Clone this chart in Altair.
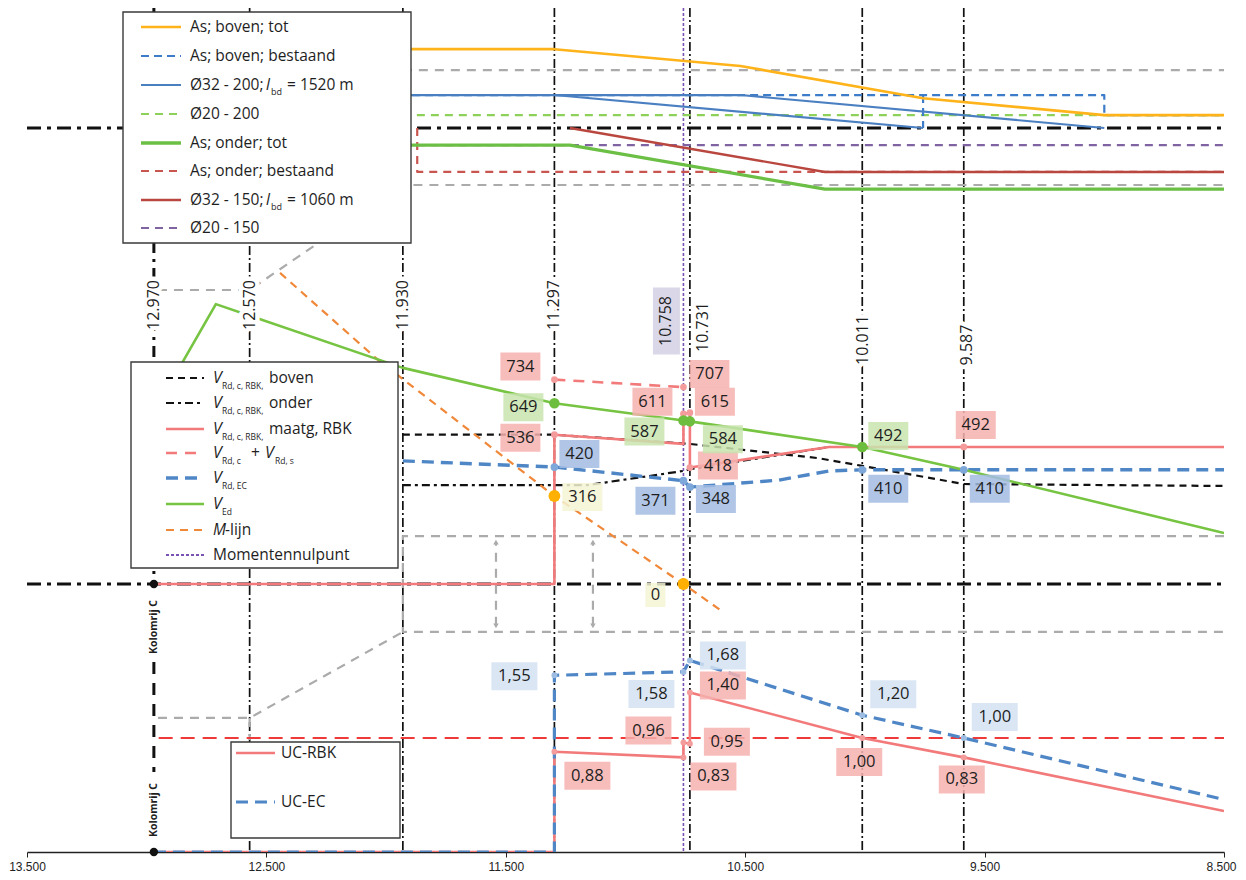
import altair as alt
import pandas as pd

# ------------------------------------------------------------------
# DATA
# ------------------------------------------------------------------
axis_ticks = [13.5, 12.5, 11.5, 10.5, 9.5, 8.5]

# section lines (m) and their labels
sec_x = [12.970, 12.570, 11.930, 11.297, 10.758, 10.731, 10.011, 9.587]
sec_txt = ["12.970", "12.570", "11.930", "11.297", "10.758", "10.731", "10.011", "9.587"]

# --- reinforcement panel, As in mm2/m (boven > 0, onder < 0)
as_zero_x, as_zero = [13.5, 8.5], [0, 0]
as_boven_tot_x = [12.0, 11.297, 10.52, 9.757, 9.0, 8.5]
as_boven_tot = [9613, 9613, 7558, 3626, 1571, 1571]
as_boven_best_x = [12.0, 9.0, 9.0, 8.5]
as_boven_best = [4021, 4021, 1571, 1571]
as_boven_best2_x = [9.757, 9.757]
as_boven_best2 = [4021, 0]
as_d32_200a_x = [12.0, 10.52, 9.0]
as_d32_200a = [4021, 4021, 0]
as_d32_200b_x = [11.297, 9.757]
as_d32_200b = [4021, 0]
as_d20_200_x = [11.93, 8.5]
as_d20_200 = [1571, 1571]
as_onder_tot_x = [12.0, 11.232, 10.167, 8.5]
as_onder_tot = [-2094, -2094, -7456, -7456]
as_onder_best_x = [11.87, 11.87, 8.5]
as_onder_best = [0, -5362, -5362]
as_d32_150_x = [11.232, 10.167, 8.5]
as_d32_150 = [0, -5362, -5362]
as_d20_150_x = [11.93, 8.5]
as_d20_150 = [-2094, -2094]
as_grey_top_x = [11.93, 8.5]
as_grey_top = [7070, 7070]
as_grey_bot_x = [12.953, 12.57, 11.93, 8.5]
as_grey_bot = [-19756, -19756, -6951, -6951]

# --- shear panel, V in kN
v_zero_x, v_zero = [13.5, 8.5], [0, 0]
ved_x = [12.87, 12.711, 11.93, 11.297, 10.758, 10.731, 10.011, 9.587, 8.5]
ved = [767, 1005, 776, 649, 587, 584, 492, 410, 183]
vrbk_x = [12.97, 11.297, 11.297, 10.758, 10.758, 10.731, 10.731, 10.15, 8.5]
vrbk = [0, 0, 536, 503, 611, 615, 418, 492, 492]
vrds_x = [11.297, 10.758]
vrds = [734, 707]
vboven_x = [11.93, 11.297, 10.731, 10.196, 10.011, 9.587, 8.5]
vboven = [536, 536, 503, 452, 424, 359, 352]
vonder_x = [11.93, 11.16, 10.758, 10.731, 10.15, 8.5]
vonder = [355, 355, 406, 412, 492, 492]
vrdec_x = [11.93, 11.297, 10.758, 10.731, 10.36, 10.15, 10.011, 8.5]
vrdec = [442, 420, 371, 348, 373, 406, 410, 410]
mlijn_x = [12.443, 12.033, 11.297, 10.758, 10.593]
mlijn = [1117, 804, 316, 0, -100]
v_grey_x = [8.5, 11.93, 11.93, 8.5]
v_grey = [172, 172, -172, -172]
v_grey_diag_x = [12.953, 12.57, 11.93]
v_grey_diag = [-481, -481, -172]
v_grey_tick_x = [12.57, 12.57]
v_grey_tick = [-481, -560]
v_arrow_x = [11.541, 11.136]
v_arrow_lo, v_arrow_hi = -150, 150

# --- unity checks
ucr_x = [12.97, 11.297, 11.297, 10.758, 10.758, 10.731, 10.731, 10.011, 9.587, 8.5]
ucr = [0, 0, 0.88, 0.83, 0.96, 0.95, 1.40, 1.00, 0.83, 0.36]
uce_x = [12.97, 11.297, 11.297, 10.758, 10.731, 10.011, 9.587, 8.5]
uce = [0, 0, 1.55, 1.58, 1.68, 1.20, 1.00, 0.46]
uc1_x, uc1 = [12.95, 8.5], [1.0, 1.0]

# --- labelled values
sh_lbl_x = [11.297, 11.297, 11.297, 11.297, 11.297, 10.758, 10.758, 10.731, 10.758,
            10.731, 10.731, 10.758, 10.731, 10.758, 10.011, 9.587, 10.011, 9.587]
sh_lbl_v = [734, 649, 536, 420, 316, 707, 611, 615, 587, 584, 418, 371, 348, 0, 492, 492, 410, 410]
sh_lbl_kind = ["rbk", "ed", "rbk", "ec", "m", "rbk", "rbk", "rbk", "ed", "ed", "rbk", "ec",
               "ec", "m", "ed", "rbk", "ec", "ec"]
uc_lbl_x = [11.297, 10.758, 10.731, 10.731, 10.758, 10.731, 11.297, 10.758, 10.011, 9.587, 10.011, 9.587]
uc_lbl_v = [1.55, 1.58, 1.68, 1.40, 0.96, 0.95, 0.88, 0.83, 1.20, 1.00, 1.00, 0.83]
uc_lbl_kind = ["ec", "ec", "ec", "rbk", "rbk", "rbk", "rbk", "rbk", "ec", "ec", "rbk", "rbk"]

# dots
dot_ed_x, dot_ed = [11.297, 10.758, 10.731, 10.011], [649, 587, 584, 492]
dot_ec_x, dot_ec = [11.297, 10.758, 10.731, 10.011, 9.587], [420, 371, 348, 410, 410]
dot_rbk_x = [11.297, 11.297, 10.758, 10.758, 10.731, 10.731, 9.587]
dot_rbk = [734, 536, 707, 611, 615, 418, 492]
dot_m_x, dot_m = [11.297, 10.758], [316, 0]
dot_ucr_x = [11.297, 10.758, 10.758, 10.731, 10.731, 10.011, 9.587]
dot_ucr = [0.88, 0.83, 0.96, 0.95, 1.40, 1.00, 0.83]
dot_uce_x = [11.297, 10.758, 10.731, 10.011, 9.587]
dot_uce = [1.55, 1.58, 1.68, 1.20, 1.00]

# ------------------------------------------------------------------
# LAYOUT (pixels / styles)
# ------------------------------------------------------------------
W, H = 1197, 844
PXM = W / 5.0
FONT = "Open Sans"
LEFT = 27  # page x of the 13.500 tick


def px2x(px):
    return 13.5 - (px - 29) / PXM


def px2Y(py):
    return 852 - py


def Yas(v):
    return 724 + 0.0082 * v


def Yv(v):
    return 268 + 0.2785 * v


def Yuc(v):
    return 114 * v


sh_lbl_off = [(-34, -13), (-31, 4), (-34, 3), (25, -13), (28, 1), (26, -13), (-31, -12), (25, -11),
              (-39, 11), (33, 18), (28, -2), (-28, 20), (26, 12), (-28, 11), (26, -11), (12, -22),
              (26, 19), (26, 19)]
uc_lbl_off = [(-40, 1), (-32, 22), (33, -5), (33, -7), (-35, -12), (37, -2), (33, 24), (30, 19),
              (31, -21), (31, -21), (-3, 24), (-2, 22)]
sec_lbl_py = [305, 305, 305, 305, 321, 327, 340, 345]
sec_lbl_dx = [0, 0, 0, 0, -17, 13, 1, 3]

C_OR = "#FFB31A"
C_BLUE_T = "#3D7CC9"
C_BLUE_S = "#4A7FC1"
C_GREEN_D = "#8ED15A"
C_GREEN_T = "#6CBF45"
C_RED_D = "#C9554F"
C_RED_T = "#B9473F"
C_PURP = "#8064A2"
C_GREY = "#ABABAB"
C_PINK = "#F27A7A"
C_EC = "#4F86C6"
C_VED = "#76C442"
C_M = "#F0883A"
C_MNP = "#7A52B3"
C_UC1 = "#F03A3A"

BOX_FILL = {"rbk": "#F6B1AF", "ed": "#C8E4AE", "ec": "#A3BCE3", "m": "#F5F5D5", "ucec": "#D3E2F2"}

x_scale = alt.Scale(domain=[8.5, 13.5], reverse=True, nice=False, zero=False)
y_scale = alt.Scale(domain=[0, H], nice=False, zero=False)
x_axis = alt.Axis(values=axis_ticks, format=".3f", title=None, grid=False, domainColor="#222",
                  domainWidth=1.5, tickColor="#222", tickSize=5, labelFontSize=12,
                  labelFont="Liberation Sans Narrow, Liberation Sans, sans-serif",
                  labelColor="#222", labelPadding=4, labelFlush=False,
                  labelAlign=alt.condition("datum.value < 8.6", alt.value("right"), alt.value("center")),
                  labelOffset=alt.condition("datum.value < 8.6", alt.value(12), alt.value(0)))


def X():
    return alt.X("x:Q", scale=x_scale, axis=x_axis)


def Yenc():
    return alt.Y("Y:Q", scale=y_scale, axis=None)


layers = []


def path(xs, ys, color, width, dash=None, cap="butt", opacity=1.0):
    df = pd.DataFrame({"x": xs, "Y": ys, "i": list(range(len(xs)))})
    kw = dict(color=color, strokeWidth=width, strokeCap=cap, strokeJoin="round", clip=True,
              opacity=opacity)
    if dash is not None:
        kw["strokeDash"] = dash
    layers.append(alt.Chart(df).mark_line(**kw).encode(x=X(), y=Yenc(), order="i:Q"))


def pts(xs, ys, color, size, shape="circle", opacity=1.0):
    df = pd.DataFrame({"x": xs, "Y": ys})
    layers.append(alt.Chart(df).mark_point(shape=shape, filled=True, color=color, size=size,
                                           opacity=opacity, strokeWidth=0)
                  .encode(x=X(), y=Yenc()))


def texts(xs, ys, labels, size, color="#1e1e1e", style="normal", weight="normal",
          align="center", angle=0, halo=False, font=FONT):
    df = pd.DataFrame({"x": xs, "Y": ys, "t": labels})
    kw = dict(fontSize=size, font=font, fontStyle=style, fontWeight=weight, align=align,
              baseline="middle", color=color, angle=angle)
    if halo:
        kw.update(stroke="white", strokeWidth=9, strokeJoin="round", color="white")
    layers.append(alt.Chart(df).mark_text(**kw).encode(x=X(), y=Yenc(), text="t:N"))


DASHDOT = [9, 3, 2, 3]

# ---------------- section lines ----------------
for sx in sec_x:
    if abs(sx - 12.970) < 1e-6:
        path([sx, sx], [H, Yv(0)], "#111", 3, [11, 6, 3, 6])
    elif abs(sx - 10.758) < 1e-6:
        path([sx, sx], [H, 0], C_MNP, 1.6, [3, 2])
    else:
        path([sx, sx], [H, 0], "#111", 1.7, DASHDOT)

# Kolomrij C marker below column line
path([12.97, 12.97], [px2Y(662), px2Y(772)], "#111", 3, [12, 9])

# ---------------- reinforcement panel ----------------
path(as_zero_x, [Yas(v) for v in as_zero], "#111", 3, [14, 6, 4, 6])
path(as_grey_top_x, [Yas(v) for v in as_grey_top], C_GREY, 2.2, [9, 7])
path(as_grey_bot_x, [Yas(v) for v in as_grey_bot], C_GREY, 2.2, [9, 7])
path(as_d20_200_x, [Yas(v) for v in as_d20_200], C_GREEN_D, 2.2, [8, 6])
path(as_d20_150_x, [Yas(v) for v in as_d20_150], C_PURP, 2.2, [8, 6])
path(as_onder_best_x, [Yas(v) for v in as_onder_best], C_RED_D, 2.2, [8, 6])
path(as_boven_best_x, [Yas(v) for v in as_boven_best], C_BLUE_T, 2.2, [8, 5])
path(as_boven_best2_x, [Yas(v) for v in as_boven_best2], C_BLUE_T, 2.2, [8, 5])
path(as_d32_200a_x, [Yas(v) for v in as_d32_200a], C_BLUE_S, 2.2)
path(as_d32_200b_x, [Yas(v) for v in as_d32_200b], C_BLUE_S, 2.2)
path(as_d32_150_x, [Yas(v) for v in as_d32_150], C_RED_T, 2.4)
path(as_onder_tot_x, [Yas(v) for v in as_onder_tot], C_GREEN_T, 3.2)
path(as_boven_tot_x, [Yas(v) for v in as_boven_tot], C_OR, 2.6)

# ---------------- shear panel ----------------
path(v_grey_x, [Yv(v) for v in v_grey], C_GREY, 2.2, [9, 7])
path(v_grey_diag_x, [Yv(v) for v in v_grey_diag], C_GREY, 2.2, [9, 7])
path(v_grey_tick_x, [Yv(v) for v in v_grey_tick], C_GREY, 2.2, [9, 7])
for ax in v_arrow_x:
    path([ax, ax], [Yv(v_arrow_lo), Yv(v_arrow_hi)], C_GREY, 2.2, [9, 7])
pts(v_arrow_x, [Yv(v_arrow_hi)] * len(v_arrow_x), C_GREY, 30, "triangle-up")
pts(v_arrow_x, [Yv(v_arrow_lo)] * len(v_arrow_x), C_GREY, 30, "triangle-down")

path(v_zero_x, [Yv(v) for v in v_zero], "#111", 3, [14, 6, 4, 6])
path(vonder_x, [Yv(v) for v in vonder], "#111", 2.2, [8, 4, 3, 4])
path(vboven_x, [Yv(v) for v in vboven], "#111", 2.2, [7, 5])
path(mlijn_x, [Yv(v) for v in mlijn], C_M, 2.2, [8, 6])
path(vrdec_x, [Yv(v) for v in vrdec], C_EC, 3.4, [12, 7])
path(vrds_x, [Yv(v) for v in vrds], C_PINK, 2.6, [11, 8])
path(vrbk_x, [Yv(v) for v in vrbk], C_PINK, 2.6)
path(ved_x, [Yv(v) for v in ved], C_VED, 2.6)

# ---------------- unity checks ----------------
path(uc1_x, [Yuc(v) for v in uc1], C_UC1, 2.2, [14, 8])
path(ucr_x, [Yuc(v) for v in ucr], C_PINK, 2.6)
path(uce_x, [Yuc(v) for v in uce], C_EC, 3.2, [12, 7])

# ---------------- dots ----------------
pts(dot_rbk_x, [Yv(v) for v in dot_rbk], "#F49C9C", 45)
pts(dot_ec_x, [Yv(v) for v in dot_ec], "#7FA8DA", 60)
pts(dot_ed_x, [Yv(v) for v in dot_ed], "#6DBE3E", 110)
pts(dot_m_x, [Yv(v) for v in dot_m], "#FFB000", 140)
pts(dot_ucr_x, [Yuc(v) for v in dot_ucr], "#F49C9C", 35)
pts(dot_uce_x, [Yuc(v) for v in dot_uce], "#9DBDE3", 35)
pts([12.97, 12.97], [Yv(0), Yuc(0)], "#111", 70)

# ---------------- value labels ----------------
SHAPES = {3: "M-2,-1.4H2V1.4H-2Z", 1: "M-1,-1.2H1V1.2H-1Z", 4: "M-2.3,-1.4H2.3V1.4H-2.3Z"}


def label_set(xs, Ys, txts, kinds, offs, font_size=16.5):
    rows = []
    for x, Y, t, k, (dx, dy) in zip(xs, Ys, txts, kinds, offs):
        rows.append({"x": x - dx / PXM, "Y": Y - dy, "t": t, "k": k})
    df = pd.DataFrame(rows)
    for k in df["k"].unique():
        for n in df["t"].str.len().unique():
            sub = df[(df["k"] == k) & (df["t"].str.len() == n)]
            if len(sub) == 0:
                continue
            shp = SHAPES[1] if n == 1 else (SHAPES[4] if n == 4 else SHAPES[3])
            layers.append(alt.Chart(sub).mark_point(shape=shp, filled=True, color=BOX_FILL[k],
                                                     size=400, opacity=0.85, strokeWidth=0)
                          .encode(x=X(), y=Yenc()))
    texts(list(df["x"]), list(df["Y"]), list(df["t"]), font_size)


label_set(sh_lbl_x, [Yv(v) for v in sh_lbl_v], [str(v) for v in sh_lbl_v], sh_lbl_kind, sh_lbl_off)
label_set(uc_lbl_x, [Yuc(v) for v in uc_lbl_v], [f"{v:.2f}".replace(".", ",") for v in uc_lbl_v],
          ["ucec" if k == "ec" else k for k in uc_lbl_kind], uc_lbl_off)

# ---------------- section labels ----------------
slx = [x - d / PXM for x, d in zip(sec_x, sec_lbl_dx)]
sly = [px2Y(p) for p in sec_lbl_py]
texts(slx, sly, sec_txt, 16, angle=270, halo=True)
i758 = sec_txt.index("10.758")
layers.append(alt.Chart(pd.DataFrame({"x": [slx[i758]], "Y": [sly[i758]]}))
              .mark_point(shape="M-1.35,-3.35H1.35V3.35H-1.35Z", filled=True, color="#DAD7E8",
                          size=400, opacity=1, strokeWidth=0)
              .encode(x=X(), y=Yenc()))
texts(slx, sly, sec_txt, 16, angle=270)

# Kolomrij C
texts([12.97, 12.97], [px2Y(627), px2Y(810)], ["Kolomrij C", "Kolomrij C"], 10.5,
      weight="bold", angle=270, halo=True)
texts([12.97, 12.97], [px2Y(627), px2Y(810)], ["Kolomrij C", "Kolomrij C"], 10.5,
      weight="bold", angle=270)

# ---------------- legends ----------------
boxes = pd.DataFrame({
    "x": [px2x(125), px2x(133), px2x(233)],
    "x2": [px2x(413), px2x(400), px2x(402)],
    "Y": [px2Y(12), px2Y(362), px2Y(742)],
    "Y2": [px2Y(243), px2Y(568), px2Y(838)],
})
layers.append(alt.Chart(boxes).mark_rect(fill="white", stroke="#3a3a3a", strokeWidth=1.4)
              .encode(x=X(), x2="x2:Q", y=Yenc(), y2="Y2:Q"))

top_rows = [27, 56, 85, 114, 143, 171, 200, 228]
top_styles = [(C_OR, 2.6, None), (C_BLUE_T, 2.2, [8, 5]), (C_BLUE_S, 2.2, None),
              (C_GREEN_D, 2.2, [8, 6]), (C_GREEN_T, 3.6, None), (C_RED_D, 2.2, [8, 6]),
              (C_RED_T, 2.6, None), (C_PURP, 2.2, [8, 6])]
for ry, (c, w, d) in zip(top_rows, top_styles):
    path([px2x(143), px2x(183)], [px2Y(ry), px2Y(ry)], c, w, d)
top_txt = ["As; boven; tot", "As; boven; bestaand", "Ø32 - 200;", "Ø20 - 200", "As; onder; tot",
           "As; onder; bestaand", "Ø32 - 150;", "Ø20 - 150"]
texts([px2x(192)] * 8, [px2Y(r) for r in top_rows], top_txt, 15.5, align="left")
texts([px2x(268)] * 2, [px2Y(top_rows[2]), px2Y(top_rows[6])], ["l", "l"], 15.5, style="italic",
      align="left")
texts([px2x(273)] * 2, [px2Y(top_rows[2] + 7), px2Y(top_rows[6] + 7)], ["bd", "bd"], 9,
      align="left")
texts([px2x(289)] * 2, [px2Y(top_rows[2]), px2Y(top_rows[6])], ["= 1520 m", "= 1060 m"], 15.5,
      align="left")

mid_rows = [378, 403, 429, 453, 478, 504, 530, 555]
mid_styles = [("#111", 2.2, [7, 5]), ("#111", 2.2, [8, 4, 3, 4]), (C_PINK, 2.6, None),
              (C_PINK, 2.6, [11, 8]), (C_EC, 3.4, [12, 7]), (C_VED, 2.6, None),
              (C_M, 2.2, [8, 6]), (C_MNP, 2.2, [3, 2])]
for ry, (c, w, d) in zip(mid_rows, mid_styles):
    path([px2x(168), px2x(206)], [px2Y(ry), px2Y(ry)], c, w, d)
v_rows = mid_rows[:6]
texts([px2x(215)] * 6, [px2Y(r) for r in v_rows], ["V"] * 6, 16, style="italic", align="left")
texts([px2x(267)], [px2Y(mid_rows[3])], ["V"], 16, style="italic", align="left")
texts([px2x(224)] * 6, [px2Y(r + 8) for r in v_rows],
      ["Rd, c, RBK,", "Rd, c, RBK,", "Rd, c, RBK,", "Rd, c", "Rd, EC", "Ed"], 8.5, align="left")
texts([px2x(277)], [px2Y(mid_rows[3] + 8)], ["Rd, s"], 8.5, align="left")
texts([px2x(271)] * 3, [px2Y(r) for r in mid_rows[:3]], ["boven", "onder", "maatg, RBK"], 15.5,
      align="left")
texts([px2x(253)], [px2Y(mid_rows[3])], ["+"], 15.5, align="left")
texts([px2x(215)], [px2Y(mid_rows[6])], ["M"], 15.5, style="italic", align="left")
texts([px2x(227)], [px2Y(mid_rows[6])], ["-lijn"], 15.5, align="left")
texts([px2x(215)], [px2Y(mid_rows[7])], ["Momentennulpunt"], 15.5, align="left")

bot_rows = [753, 802]
path([px2x(238), px2x(277)], [px2Y(753), px2Y(753)], C_PINK, 2.6)
path([px2x(238), px2x(277)], [px2Y(802), px2Y(802)], C_EC, 3.2, [12, 7])
texts([px2x(283)] * 2, [px2Y(r) for r in bot_rows], ["UC-RBK", "UC-EC"], 15.5, align="left")

chart = alt.layer(*layers).properties(
    width=W, height=H, autosize="none",
    padding={"left": LEFT - 8, "top": 0, "right": 14, "bottom": 24},
    background="white",
).configure_view(stroke=None)

chart.save("out.html", embed_options={"renderer": "svg", "actions": False})
